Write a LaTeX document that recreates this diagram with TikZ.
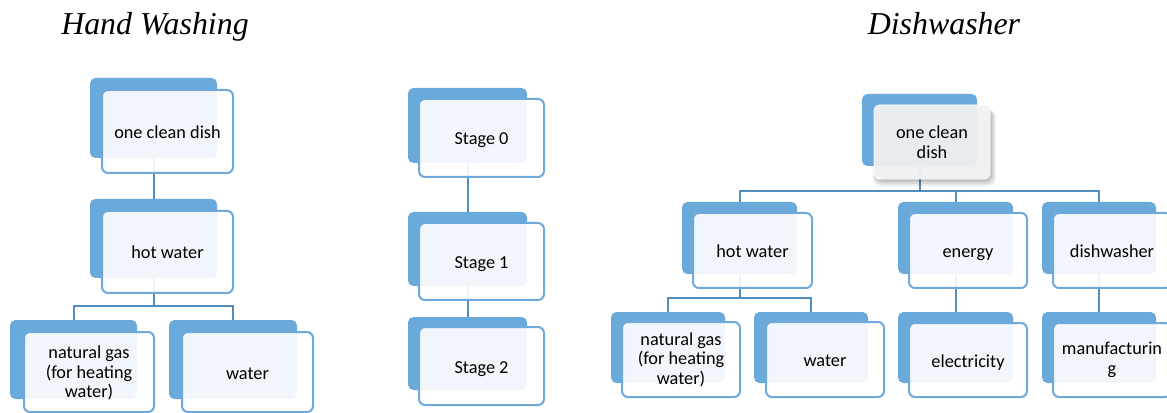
\documentclass[tikz,border=0pt]{standalone}
\usepackage{fontspec}
\setmainfont{Carlito}
\newfontfamily\titlefont{Liberation Serif}
\usetikzlibrary{fit}
\definecolor{backblue}{RGB}{106,170,219}
\definecolor{edgeblue}{RGB}{111,169,219}
\definecolor{linkblue}{RGB}{82,141,192}
\definecolor{topfill}{RGB}{241,242,244}
\begin{document}
\begin{tikzpicture}[x=0.75pt,y=-0.75pt,
  backbox/.style={fill=backblue, draw=none, rounded corners=4pt, inner sep=0pt, outer sep=0pt},
  frontbox/.style={fill=white, fill opacity=0.9, draw=edgeblue, line width=1.5pt,
    rounded corners=4.5pt, inner sep=0pt},
  topbox/.style={frontbox, fill=topfill, fill opacity=0.95, draw=white, line width=0.6pt},
  lbl/.style={align=center, inner sep=0pt, font=\fontsize{13.7}{14.6}\selectfont},
  lblone/.style={lbl, text height=10.5pt, text depth=0pt},
  link/.style={draw=linkblue, line width=1.5pt},
  title/.style={font=\titlefont\itshape\fontsize{23.9}{26}\selectfont, anchor=base}]
\useasboundingbox (0,0) rectangle (1167,413);

% titles
\node[title] (t1) at (155,35) {Hand Washing};
\node[title] (t2) at (944,35) {Dishwasher};

% ---------- back boxes ----------
% left tree
\node[backbox, fit={(90,78) (217,158)}] (L0b) {};
\node[backbox, fit={(90,199) (217,278)}] (L1b) {};
\node[backbox, fit={(10,320) (137,399)}] (L2ab) {};
\node[backbox, fit={(169,320) (297,399)}] (L2bb) {};
% stages
\node[backbox, fit={(408,88) (527,163)}] (S0b) {};
\node[backbox, fit={(408,212) (527,286)}] (S1b) {};
\node[backbox, fit={(408,317) (527,390)}] (S2b) {};
% right tree
\node[backbox, fit={(862,94) (977,166)}] (R0b) {};
\node[backbox, fit={(682,202) (797,274)}] (R1ab) {};
\node[backbox, fit={(898,202) (1013,274)}] (R1bb) {};
\node[backbox, fit={(1042,202) (1156,274)}] (R1cb) {};
\node[backbox, fit={(611,312) (725,383)}] (R2ab) {};
\node[backbox, fit={(754,312) (868,383)}] (R2bb) {};
\node[backbox, fit={(898,312) (1013,383)}] (R2cb) {};
\node[backbox, fit={(1042,312) (1156,383)}] (R2db) {};

% ---------- connectors ----------
\draw[link] (L0b.south) -- (L1b.north);
\draw[link] (L1b.south) -- ++(0,28.5) -| (L2ab.north);
\draw[link] (L1b.south) -- ++(0,28.5) -| (L2bb.north);

\draw[link] (S0b.south) -- (S1b.north);
\draw[link] (S1b.south) -- (S2b.north);

\draw[link] (R0b.south) -- ++(0,25) -| (R1ab.north);
\draw[link] (R0b.south) -- ++(0,25) -| (R1bb.north);
\draw[link] (R0b.south) -- ++(0,25) -| (R1cb.north);
\draw[link] (R1ab.south) -- ++(0,24) -| (R2ab.north);
\draw[link] (R1ab.south) -- ++(0,24) -| (R2bb.north);
\draw[link] (R1bb.south) -- (R2cb.north);
\draw[link] (R1cb.south) -- (R2db.north);

% soft shadow of the top right box
\foreach \s in {1,...,7} {
  \fill[black, opacity=0.04, rounded corners=6pt]
    ({874+2-\s*0.5},{105+4}) rectangle ({990+1+\s*0.7},{179+1+\s*0.9});
}

% ---------- front boxes ----------
\node[frontbox, fit={(102,90) (233,173)}] (L0f) {};
\node[frontbox, fit={(102,211) (233,293)}] (L1f) {};
\node[frontbox, fit={(24,332) (154,412)}] (L2af) {};
\node[frontbox, fit={(182,332) (313,412)}] (L2bf) {};

\node[frontbox, fit={(419,99) (544,177)}] (S0f) {};
\node[frontbox, fit={(419,223) (544,300)}] (S1f) {};
\node[frontbox, fit={(419,327) (544,405)}] (S2f) {};

\node[topbox, fit={(874,105) (990,179)}] (R0f) {};
\node[frontbox, fit={(693,213) (812,288)}] (R1af) {};
\node[frontbox, fit={(909,213) (1027,288)}] (R1bf) {};
\node[frontbox, fit={(1053,213) (1171,288)}] (R1cf) {};
\node[frontbox, fit={(622,322) (740,397)}] (R2af) {};
\node[frontbox, fit={(766,322) (884,397)}] (R2bf) {};
\node[frontbox, fit={(909,323) (1027,397)}] (R2cf) {};
\node[frontbox, fit={(1053,323) (1171,397)}] (R2df) {};

% ---------- labels ----------
\node[lblone] (L0t) at (L0f.center) {one clean dish};
\node[lblone] (L1t) at (L1f.center) {hot water};
\node[lbl] (L2at) at ([yshift=-0.8pt]L2af.center) {natural gas\\(for heating\\water)};
\node[lblone] (L2bt) at (L2bf.center) {water};

\node[lblone] (S0t) at (S0f.center) {Stage 0};
\node[lblone] (S1t) at (S1f.center) {Stage 1};
\node[lblone] (S2t) at (S2f.center) {Stage 2};

\node[lbl] (R0t) at (R0f.center) {one clean\\dish};
\node[lblone] (R1at) at (R1af.center) {hot water};
\node[lblone] (R1bt) at (R1bf.center) {energy};
\node[lblone] (R1ct) at (R1cf.center) {dishwasher};
\node[lbl] (R2at) at (R2af.center) {natural gas\\(for heating\\water)};
\node[lblone] (R2bt) at (R2bf.center) {water};
\node[lblone] (R2ct) at (R2cf.center) {electricity};
\node[lbl] (R2dt) at (R2df.center) {manufacturin\\g};
\end{tikzpicture}
\end{document}
